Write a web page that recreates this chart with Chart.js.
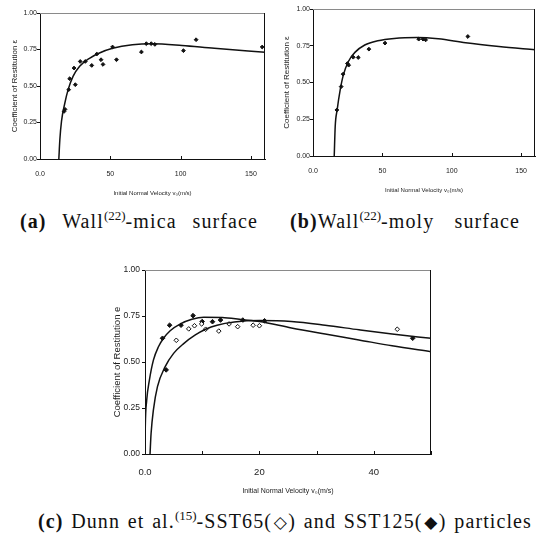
<!DOCTYPE html>
<html>
<head>
<meta charset="utf-8">
<script src="https://cdn.jsdelivr.net/npm/chart.js@4.4.0/dist/chart.umd.min.js"></script>
<style>
  html, body { margin: 0; padding: 0; background: #fff; }
  #page { position: relative; width: 540px; height: 547px; overflow: hidden; }
  canvas { position: absolute; }
  .cap {
    position: absolute;
    font-family: "Liberation Serif", "Times New Roman", serif;
    font-size: 20px; line-height: 20px; letter-spacing: 1.1px;
    text-align: justify; text-align-last: justify; color: #111;
  }
  .cap sup { font-size: 13px; vertical-align: 0; position: relative; top: -8px; letter-spacing: 0; }
  .sym { font-family: "DejaVu Sans", sans-serif; font-size: 17px; letter-spacing: 0; }
</style>
</head>
<body>
<div id="page">
  <canvas id="ca" width="270" height="200" style="left:0;top:0"></canvas>
  <canvas id="cb" width="270" height="200" style="left:270px;top:0"></canvas>
  <canvas id="cc" width="360" height="250" style="left:90px;top:250px"></canvas>

  <div class="cap" style="left:20px;top:211px;width:238px"><b>(a)</b> Wall<sup>(22)</sup>-mica surface</div>
  <div class="cap" style="left:290px;top:211px;width:230px"><b>(b)</b>Wall<sup>(22)</sup>-moly surface</div>
  <div class="cap" style="left:38px;top:511px;width:494px"><b>(c)</b> Dunn et al.<sup>(15)</sup>-SST65(<span class="sym">◇</span>) and SST125(<span class="sym">◆</span>) particles</div>
</div>

<script>
/* ---------- data ---------- */
const yTicks = [0, 0.25, 0.5, 0.75, 1];

// (a) Wall - mica
const aMeasX = [17.1, 17.8, 20.4, 21.1, 24.2, 25.1, 28.6, 32.2, 36.8, 40.4, 43.4, 44.8, 51.6, 54.4, 72.1, 75.6, 79.1, 81.7, 102, 111, 158];
const aMeasY = [0.326, 0.34, 0.475, 0.55, 0.623, 0.509, 0.668, 0.668, 0.641, 0.719, 0.68, 0.648, 0.767, 0.68, 0.733, 0.79, 0.79, 0.785, 0.742, 0.817, 0.767];
const aFitX  = [13.4, 14.1, 15.3, 17.6, 20, 23.5, 28.2, 35.2, 42.3, 51.6, 65.7, 79.8, 101, 124, 160];
const aFitY  = [0, 0.13, 0.26, 0.38, 0.475, 0.566, 0.635, 0.69, 0.726, 0.758, 0.783, 0.79, 0.778, 0.758, 0.732];

// (b) Wall - moly
const bMeasX = [17.2, 20.3, 21.7, 24.8, 25.7, 29, 32.6, 40.3, 51.9, 76.2, 79.3, 81.2, 111.6];
const bMeasY = [0.313, 0.472, 0.557, 0.629, 0.618, 0.672, 0.67, 0.727, 0.768, 0.795, 0.795, 0.79, 0.813];
const bFitX  = [15.3, 16, 17.4, 19.6, 21.9, 25.5, 30.2, 37.3, 46.7, 58.5, 75, 90.3, 110, 134, 160];
const bFitY  = [0, 0.2, 0.314, 0.45, 0.552, 0.643, 0.705, 0.755, 0.784, 0.8, 0.806, 0.797, 0.77, 0.745, 0.723];
const abXTicks  = [0, 50, 100, 150];
const abXLabels = ['0.0', '50', '100', '150'];

// (c) Dunn et al. - SST65 (open) / SST125 (filled)
const c65X  = [5.47, 7.65, 8.65, 9.9, 10.6, 12.9, 14.7, 16.2, 18.9, 20, 44.1];
const c65Y  = [0.618, 0.68, 0.697, 0.707, 0.678, 0.668, 0.707, 0.692, 0.70, 0.697, 0.678];
const c125X = [3.06, 3.7, 4.3, 6.3, 8.4, 10, 11.8, 13.2, 17.1, 20.9, 46.8];
const c125Y = [0.629, 0.457, 0.70, 0.70, 0.752, 0.72, 0.719, 0.728, 0.728, 0.724, 0.629];
const cFit1X = [0, 0.05, 0.29, 0.76, 1.47, 2.35, 3.24, 4.4, 6.2, 8.2, 10.3, 13.5, 17, 20, 25.6, 31.5, 37.4, 43.2, 50];
const cFit1Y = [0.03, 0.15, 0.29, 0.40, 0.51, 0.583, 0.629, 0.67, 0.707, 0.732, 0.743, 0.742, 0.73, 0.72, 0.685, 0.652, 0.62, 0.588, 0.556];
const cFit2X = [0.88, 1.06, 1.47, 2.18, 3.53, 5, 6.76, 8.8, 10.6, 12.6, 15.6, 20, 25.6, 31.5, 37.4, 43.2, 50];
const cFit2Y = [0, 0.11, 0.24, 0.366, 0.475, 0.547, 0.60, 0.647, 0.678, 0.70, 0.717, 0.725, 0.72, 0.70, 0.675, 0.652, 0.629];
const cXTicks  = [0, 10, 20, 30, 40, 50];
const cXLabels = ['0.0', '', '20', '', '40', ''];

/* ---------- helpers ---------- */
Chart.defaults.font.family = '"Liberation Sans", Arial, sans-serif';
Chart.defaults.color = '#222';

const pts = (xs, ys) => xs.map((x, i) => ({ x, y: ys[i] }));

function fitLine(xs, ys) {
  return {
    data: pts(xs, ys), showLine: true, pointRadius: 0,
    borderColor: '#111', borderWidth: 1.5,
    cubicInterpolationMode: 'monotone'
  };
}
function marks(xs, ys, filled, r) {
  return {
    data: pts(xs, ys), showLine: false, pointStyle: 'rectRot', pointRadius: r,
    backgroundColor: filled ? '#111' : '#fff', borderColor: '#111', borderWidth: 1
  };
}

// frame: top + right edges, inner x ticks
const framePlugin = {
  id: 'frame',
  afterDraw(chart) {
    const { ctx, chartArea: a } = chart;
    const xs = chart.scales.x;
    ctx.save();
    ctx.lineWidth = 1;
    ctx.strokeStyle = '#8a8a8a';
    ctx.beginPath(); ctx.moveTo(a.left, a.top + 0.5); ctx.lineTo(a.right, a.top + 0.5); ctx.stroke();
    ctx.strokeStyle = '#111';
    ctx.beginPath(); ctx.moveTo(a.right - 0.5, a.top); ctx.lineTo(a.right - 0.5, a.bottom); ctx.stroke();
    xs.ticks.forEach((t, i) => {
      const px = Math.round(xs.getPixelForTick(i)) + 0.5;
      ctx.beginPath(); ctx.moveTo(px, a.bottom); ctx.lineTo(px, a.bottom - 3); ctx.stroke();
    });
    ctx.restore();
  }
};

function panel(id, o) {
  return new Chart(document.getElementById(id), {
    type: 'scatter',
    data: { datasets: o.datasets },
    options: {
      responsive: false, animation: false, events: [],
      devicePixelRatio: 1,
      layout: { padding: { left: 0, top: o.top, right: o.right, bottom: 0 } },
      plugins: { legend: { display: false }, tooltip: { enabled: false } },
      scales: {
        x: {
          type: 'linear', min: 0, max: o.xmax,
          afterBuildTicks: s => { s.ticks = o.xTicks.map(v => ({ value: v })); },
          afterFit: s => { s.height = o.xh; },
          ticks: { callback: (v, i) => o.xLabels[i], font: { size: o.xtf }, padding: o.xtp, maxRotation: 0, autoSkip: false },
          grid: { display: false, drawTicks: false },
          border: { color: '#111', width: 1 },
          title: { display: true, text: 'Initial Normal Velocity v₀(m/s)', font: { size: o.xttf }, color: '#222', padding: { top: 0, bottom: o.xttp } }
        },
        y: {
          type: 'linear', min: 0, max: 1,
          afterBuildTicks: s => { s.ticks = yTicks.map(v => ({ value: v })); },
          afterFit: s => { s.width = o.yw; },
          ticks: { callback: v => v.toFixed(2), font: { size: o.ytf }, padding: o.ytp },
          grid: { drawOnChartArea: false, drawTicks: true, tickLength: 3, color: '#111' },
          border: { color: '#111', width: 1 },
          title: { display: true, text: o.ytitle, font: { size: o.yttf }, color: '#222', padding: { top: o.yttp, bottom: 0 } }
        }
      }
    },
    plugins: [framePlugin]
  });
}

/* ---------- the three panels ---------- */
panel('ca', {
  datasets: [fitLine(aFitX, aFitY), marks(aMeasX, aMeasY, true, 1.9)],
  xmax: 160, xTicks: abXTicks, xLabels: abXLabels,
  top: 13, right: 3, yw: 40, xh: 41,
  xtf: 7, xtp: 11, xttf: 6, xttp: 3,
  ytf: 7, ytp: 0, yttf: 8, yttp: 10,
  ytitle: 'Coefficient of Restitution ε'
});

panel('cb', {
  datasets: [fitLine(bFitX, bFitY), marks(bMeasX, bMeasY, true, 1.9)],
  xmax: 160, xTicks: abXTicks, xLabels: abXLabels,
  top: 9, right: 1, yw: 43, xh: 44,
  xtf: 7, xtp: 11, xttf: 6, xttp: 6,
  ytf: 7, ytp: 0, yttf: 8, yttp: 12,
  ytitle: 'Coefficient of Restitution ε'
});

panel('cc', {
  datasets: [
    fitLine(cFit1X, cFit1Y), fitLine(cFit2X, cFit2Y),
    marks(c65X, c65Y, false, 2.3), marks(c125X, c125Y, true, 2.3)
  ],
  xmax: 50, xTicks: cXTicks, xLabels: cXLabels,
  top: 20, right: 19, yw: 55, xh: 46,
  xtf: 9.5, xtp: 13, xttf: 7, xttp: 5,
  ytf: 8.5, ytp: 2, yttf: 9.5, yttp: 22,
  ytitle: 'Coefficient of Restitution e'
});
</script>
</body>
</html>
